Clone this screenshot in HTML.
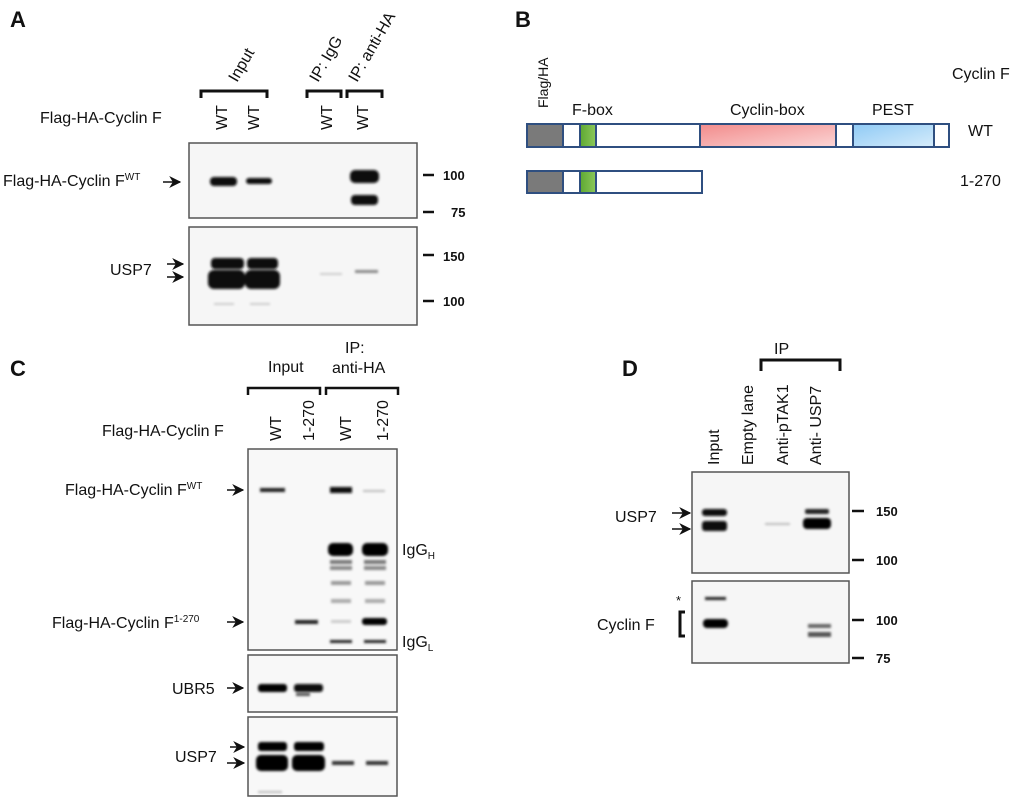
<!DOCTYPE html>
<html><head><meta charset="utf-8"><style>
html,body{margin:0;padding:0;background:#fff}
svg{display:block}
text{font-family:"Liberation Sans",Arial,sans-serif;fill:#111}
</style></head><body>
<svg width="1020" height="802" viewBox="0 0 1020 802" xmlns="http://www.w3.org/2000/svg">
<defs>
<marker id="ar" viewBox="0 0 10 10" refX="9" refY="5" markerWidth="8" markerHeight="8" orient="auto"><path d="M0,0 L10,5 L0,10 L3,5 Z" fill="#111"/></marker>
<linearGradient id="pk" x1="0" x2="1" y1="0" y2="1"><stop offset="0" stop-color="#f28b8b"/><stop offset="1" stop-color="#fbd5d5"/></linearGradient>
<linearGradient id="bl" x1="0" x2="1" y1="0" y2="1"><stop offset="0" stop-color="#8fcaf5"/><stop offset="1" stop-color="#d6ecfb"/></linearGradient>
<linearGradient id="gr" x1="0" x2="1"><stop offset="0" stop-color="#5ea832"/><stop offset="1" stop-color="#8cc85a"/></linearGradient>
<filter id="bz"><feGaussianBlur stdDeviation="1.2"/></filter>
</defs>
<g font-size="16">
<!-- Panel A -->
<text x="10" y="27" font-size="22" font-weight="bold">A</text>
<text transform="translate(237,83) rotate(-60)">Input</text>
<text transform="translate(318,83) rotate(-60)">IP: IgG</text>
<text transform="translate(357,83) rotate(-60)">IP: anti-HA</text>
<g fill="none" stroke="#111" stroke-width="3">
<path d="M201,98 V91 H267 V98"/><path d="M307,98 V91 H341 V98"/><path d="M347,98 V91 H382 V98"/>
</g>
<text x="40" y="123">Flag-HA-Cyclin F</text>
<text transform="translate(227,130) rotate(-90)">WT</text>
<text transform="translate(259,130) rotate(-90)">WT</text>
<text transform="translate(332,130) rotate(-90)">WT</text>
<text transform="translate(368,130) rotate(-90)">WT</text>
<rect x="189" y="143" width="228" height="75" fill="#f6f6f6" stroke="#555" stroke-width="1.5"/>
<rect x="189" y="227" width="228" height="98" fill="#f6f6f6" stroke="#555" stroke-width="1.5"/>
<g fill="#0a0a0a" filter="url(#bz)">
<rect x="210" y="177" width="27" height="9" rx="4"/><rect x="246" y="178" width="26" height="6" rx="3"/>
<rect x="350" y="170" width="29" height="13" rx="5"/><rect x="351" y="195" width="27" height="10" rx="4"/>
<rect x="211" y="258" width="33" height="11" rx="4"/><rect x="247" y="258" width="31" height="11" rx="4"/>
<rect x="208" y="270" width="37" height="19" rx="6"/><rect x="245" y="270" width="35" height="19" rx="6"/>
<rect x="355" y="270" width="23" height="3" fill="#888"/><rect x="320" y="273" width="22" height="2" fill="#ccc"/>
<rect x="214" y="303" width="20" height="2" fill="#ccc"/><rect x="250" y="303" width="20" height="2" fill="#ccc"/>
</g>
<text x="3" y="186">Flag-HA-Cyclin F<tspan font-size="10" dy="-6">WT</tspan></text>
<line x1="163" y1="182" x2="180" y2="182" stroke="#111" stroke-width="1.5" marker-end="url(#ar)"/>
<text x="110" y="275">USP7</text>
<line x1="167" y1="264" x2="183" y2="264" stroke="#111" stroke-width="1.5" marker-end="url(#ar)"/>
<line x1="167" y1="277" x2="183" y2="277" stroke="#111" stroke-width="1.5" marker-end="url(#ar)"/>
<g font-weight="bold" font-size="13">
<line x1="423" y1="175" x2="434" y2="175" stroke="#111" stroke-width="2.5"/><text x="443" y="180">100</text>
<line x1="423" y1="212" x2="434" y2="212" stroke="#111" stroke-width="2.5"/><text x="451" y="217">75</text>
<line x1="423" y1="255" x2="434" y2="255" stroke="#111" stroke-width="2.5"/><text x="443" y="261">150</text>
<line x1="423" y1="301" x2="434" y2="301" stroke="#111" stroke-width="2.5"/><text x="443" y="306">100</text>
</g>

<!-- Panel B -->
<text x="515" y="27" font-size="22" font-weight="bold">B</text>
<text transform="translate(548,108) rotate(-90)" font-size="14">Flag/HA</text>
<text x="572" y="115">F-box</text>
<text x="730" y="115">Cyclin-box</text>
<text x="872" y="115">PEST</text>
<text x="952" y="79">Cyclin F</text>
<text x="968" y="136">WT</text>
<text x="960" y="186">1-270</text>
<g stroke="#2f4f80" stroke-width="2">
<rect x="527" y="124" width="422" height="23" fill="#fff"/>
<rect x="527" y="124" width="36" height="23" fill="#7a7a7a"/>
<rect x="580" y="124" width="16" height="23" fill="url(#gr)"/>
<rect x="700" y="124" width="136" height="23" fill="url(#pk)"/>
<rect x="853" y="124" width="81" height="23" fill="url(#bl)"/>
<rect x="527" y="171" width="175" height="22" fill="#fff"/>
<rect x="527" y="171" width="36" height="22" fill="#7a7a7a"/>
<rect x="580" y="171" width="16" height="22" fill="url(#gr)"/>
</g>

<!-- Panel C -->
<text x="10" y="376" font-size="22" font-weight="bold">C</text>
<text x="268" y="372">Input</text>
<text x="345" y="353">IP:</text>
<text x="332" y="373">anti-HA</text>
<g fill="none" stroke="#111" stroke-width="2.5">
<path d="M248,395 V388 H320 V395"/><path d="M326,395 V388 H398 V395"/>
</g>
<text x="102" y="436">Flag-HA-Cyclin F</text>
<text transform="translate(281,441) rotate(-90)">WT</text>
<text transform="translate(314,441) rotate(-90)">1-270</text>
<text transform="translate(351,441) rotate(-90)">WT</text>
<text transform="translate(388,441) rotate(-90)">1-270</text>
<rect x="248" y="449" width="149" height="201" fill="#f8f8f8" stroke="#555" stroke-width="1.5"/>
<rect x="248" y="655" width="149" height="57" fill="#f8f8f8" stroke="#555" stroke-width="1.5"/>
<rect x="248" y="717" width="149" height="79" fill="#f8f8f8" stroke="#555" stroke-width="1.5"/>
<g filter="url(#bz)">
<rect x="260" y="488" width="25" height="4" fill="#222"/>
<rect x="330" y="487" width="22" height="6" fill="#111"/>
<rect x="363" y="490" width="22" height="2" fill="#bbb"/>
<rect x="328" y="543" width="25" height="13" rx="5" fill="#050505"/>
<rect x="362" y="543" width="26" height="13" rx="5" fill="#050505"/>
<rect x="330" y="560" width="22" height="4" fill="#777"/><rect x="364" y="560" width="22" height="4" fill="#777"/>
<rect x="330" y="566" width="22" height="4" fill="#888"/><rect x="364" y="566" width="22" height="4" fill="#888"/>
<rect x="331" y="581" width="20" height="4" fill="#999"/><rect x="365" y="581" width="20" height="4" fill="#999"/>
<rect x="331" y="599" width="20" height="4" fill="#aaa"/><rect x="365" y="599" width="20" height="4" fill="#aaa"/>
<rect x="295" y="620" width="23" height="4" fill="#222"/>
<rect x="331" y="620" width="20" height="3" fill="#ccc"/>
<rect x="362" y="618" width="25" height="7" rx="3" fill="#050505"/>
<rect x="330" y="640" width="22" height="3" fill="#222"/><rect x="364" y="640" width="22" height="3" fill="#222"/>
<rect x="258" y="684" width="29" height="8" rx="3" fill="#050505"/><rect x="294" y="684" width="29" height="8" rx="3" fill="#111"/>
<rect x="296" y="693" width="14" height="3" fill="#555"/>
<rect x="258" y="742" width="29" height="9" rx="3" fill="#050505"/><rect x="294" y="742" width="30" height="9" rx="3" fill="#050505"/>
<rect x="256" y="755" width="32" height="16" rx="5" fill="#050505"/><rect x="292" y="755" width="33" height="16" rx="5" fill="#050505"/>
<rect x="332" y="761" width="22" height="4" fill="#333"/><rect x="366" y="761" width="22" height="4" fill="#333"/>
<rect x="258" y="791" width="24" height="2" fill="#bbb"/>
</g>
<text x="65" y="495">Flag-HA-Cyclin F<tspan font-size="10" dy="-6">WT</tspan></text>
<line x1="227" y1="490" x2="243" y2="490" stroke="#111" stroke-width="1.5" marker-end="url(#ar)"/>
<text x="52" y="628">Flag-HA-Cyclin F<tspan font-size="10" dy="-6">1-270</tspan></text>
<line x1="227" y1="622" x2="243" y2="622" stroke="#111" stroke-width="1.5" marker-end="url(#ar)"/>
<text x="172" y="694">UBR5</text>
<line x1="227" y1="688" x2="243" y2="688" stroke="#111" stroke-width="1.5" marker-end="url(#ar)"/>
<text x="175" y="762">USP7</text>
<line x1="230" y1="747" x2="244" y2="747" stroke="#111" stroke-width="1.5" marker-end="url(#ar)"/>
<line x1="227" y1="763" x2="244" y2="763" stroke="#111" stroke-width="1.5" marker-end="url(#ar)"/>
<text x="402" y="555">IgG<tspan font-size="10" dy="4">H</tspan></text>
<text x="402" y="647">IgG<tspan font-size="10" dy="4">L</tspan></text>

<!-- Panel D -->
<text x="622" y="376" font-size="22" font-weight="bold">D</text>
<text x="774" y="354">IP</text>
<path d="M761,371 V360 H840 V371" fill="none" stroke="#111" stroke-width="3"/>
<text transform="translate(719,465) rotate(-90)">Input</text>
<text transform="translate(753,465) rotate(-90)">Empty lane</text>
<text transform="translate(788,465) rotate(-90)">Anti-pTAK1</text>
<text transform="translate(821,465) rotate(-90)">Anti- USP7</text>
<rect x="692" y="472" width="157" height="101" fill="#f6f6f6" stroke="#555" stroke-width="1.5"/>
<rect x="692" y="581" width="157" height="82" fill="#f6f6f6" stroke="#555" stroke-width="1.5"/>
<g filter="url(#bz)">
<rect x="702" y="509" width="25" height="7" rx="3" fill="#111"/>
<rect x="702" y="521" width="25" height="10" rx="3" fill="#0a0a0a"/>
<rect x="765" y="523" width="25" height="2" fill="#bbb"/>
<rect x="805" y="509" width="24" height="5" rx="2" fill="#222"/>
<rect x="803" y="518" width="28" height="11" rx="4" fill="#050505"/>
<rect x="705" y="597" width="21" height="3" fill="#222"/>
<rect x="703" y="619" width="25" height="9" rx="4" fill="#050505"/>
<rect x="808" y="624" width="23" height="4" fill="#666"/>
<rect x="808" y="632" width="23" height="5" fill="#555"/>
</g>
<text x="615" y="522">USP7</text>
<line x1="672" y1="513" x2="690" y2="513" stroke="#111" stroke-width="1.5" marker-end="url(#ar)"/>
<line x1="672" y1="529" x2="690" y2="529" stroke="#111" stroke-width="1.5" marker-end="url(#ar)"/>
<text x="676" y="605" font-size="13">*</text>
<text x="597" y="630">Cyclin F</text>
<path d="M685,612 H680 V636 H685" fill="none" stroke="#111" stroke-width="3"/>
<g font-weight="bold" font-size="13">
<line x1="852" y1="511" x2="864" y2="511" stroke="#111" stroke-width="2.5"/><text x="876" y="516">150</text>
<line x1="852" y1="560" x2="864" y2="560" stroke="#111" stroke-width="2.5"/><text x="876" y="565">100</text>
<line x1="852" y1="620" x2="864" y2="620" stroke="#111" stroke-width="2.5"/><text x="876" y="625">100</text>
<line x1="852" y1="658" x2="864" y2="658" stroke="#111" stroke-width="2.5"/><text x="876" y="663">75</text>
</g>
</g>
</svg>
</body></html>
